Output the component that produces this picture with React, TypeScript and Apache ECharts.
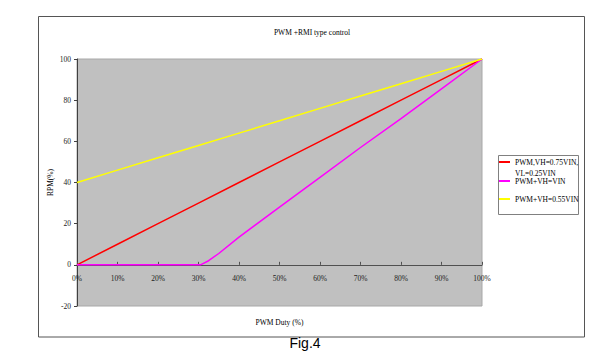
import React, { useEffect, useRef } from "react";
import * as echarts from "echarts";

const titleText = "PWM +RMI type control";
const xAxisName = "PWM Duty (%)";
const yAxisName = "RPM(%)";
const figCaption = "Fig.4";

const seriesNames = ["PWM,VH=0.75VIN, VL=0.25VIN", "PWM+VH=VIN", "PWM+VH=0.55VIN"];
const seriesColors = ["#FF0000", "#FF00FF", "#FFFF00"];

// duty (%) values for each series
const dutyRed = [0, 10, 20, 30, 40, 50, 60, 70, 80, 90, 100];
const rpmRed = [0, 10, 20, 30, 40, 50, 60, 70, 80, 90, 100];

const dutyMagenta = [0, 10, 20, 30, 30.5, 32.5, 35, 40, 50, 60, 70, 80, 90, 100];
const rpmMagenta = [0, 0, 0, 0, 0, 2, 5.5, 13.5, 28, 42.5, 57, 71, 85.5, 100];

const dutyYellow = [0, 10, 20, 30, 40, 50, 60, 70, 80, 90, 100];
const rpmYellow = [40, 46, 52, 58, 64, 70, 76, 82, 88, 94, 100];

const xTicks = { min: 0, max: 100, interval: 10 };
const yTicks = { min: -20, max: 100, interval: 20 };

const serif = "'Liberation Serif', 'Times New Roman', serif";

const GRID_TOP = 59;
const GRID_BOTTOM_PX = 306;

export default function App() {
  const ref = useRef<HTMLDivElement>(null);
  useEffect(() => {
    if (!ref.current) return;
    const chart = echarts.init(ref.current, null, { renderer: "svg" });
    const pairs = (xs: number[], ys: number[]) => xs.map((x, i) => [x, ys[i]]);
    const datasets = [
      pairs(dutyRed, rpmRed),
      pairs(dutyMagenta, rpmMagenta),
      pairs(dutyYellow, rpmYellow),
    ];
    // place the x axis on the zero line of the y axis
    const zeroFromBottom =
      ((0 - yTicks.min) / (yTicks.max - yTicks.min)) * (GRID_BOTTOM_PX - GRID_TOP);
    const legendBase = {
      orient: "vertical" as const,
      left: 499,
      padding: 0,
      icon: "rect",
      itemWidth: 11,
      itemHeight: 2,
      selectedMode: false,
      textStyle: { fontFamily: serif, fontSize: 7.5, color: "#000", lineHeight: 11 },
    };
    chart.setOption({
      animation: false,
      backgroundColor: "#ffffff",
      title: {
        text: titleText,
        left: 307,
        top: 23,
        textAlign: "center",
        textStyle: { fontFamily: serif, fontSize: 7.5, fontWeight: "normal", color: "#000" },
      },
      grid: {
        left: 77,
        right: 126,
        top: GRID_TOP,
        bottom: 354 - GRID_BOTTOM_PX,
        show: true,
        backgroundColor: "#C0C0C0",
        borderColor: "#a8a8a8",
        borderWidth: 1,
        outerBoundsMode: "none",
        containLabel: false,
      },
      legend: [
        {
          ...legendBase,
          top: 145.5,
          data: [seriesNames[0]],
          formatter: () => " \nPWM,VH=0.75VIN,\nVL=0.25VIN",
        },
        { ...legendBase, top: 175.5, data: [seriesNames[1]] },
        { ...legendBase, top: 193.5, data: [seriesNames[2]] },
      ],
      xAxis: {
        type: "value",
        min: xTicks.min,
        max: xTicks.max,
        interval: xTicks.interval,
        offset: -zeroFromBottom,
        name: xAxisName,
        nameLocation: "middle",
        nameGap: 54,
        nameMoveOverlap: false,
        nameTextStyle: { fontFamily: serif, fontSize: 7.5, color: "#000" },
        axisLine: { onZero: false, lineStyle: { color: "#505050", width: 1 } },
        axisTick: { show: true, inside: true, length: 3, lineStyle: { color: "#505050" } },
        axisLabel: {
          fontFamily: serif,
          fontSize: 7.5,
          color: "#222",
          margin: 10,
          formatter: (v: number) => `${v}%`,
        },
        splitLine: { show: false },
      },
      yAxis: {
        type: "value",
        min: yTicks.min,
        max: yTicks.max,
        interval: yTicks.interval,
        name: yAxisName,
        nameLocation: "middle",
        nameGap: 23,
        nameMoveOverlap: false,
        nameTextStyle: { fontFamily: serif, fontSize: 7.5, color: "#000" },
        axisLine: { show: true, onZero: false, lineStyle: { color: "#404040", width: 1 } },
        axisTick: { show: true, inside: false, length: 3, lineStyle: { color: "#404040" } },
        axisLabel: { fontFamily: serif, fontSize: 7.5, color: "#222", margin: 6 },
        splitLine: { show: false },
      },
      series: seriesNames.map((name, i) => ({
        name,
        type: "line",
        data: datasets[i],
        symbol: "none",
        color: seriesColors[i],
        lineStyle: { color: seriesColors[i], width: 1.5 },
        z: 2,
      })),
      graphic: [
        {
          type: "rect",
          shape: { x: 38.5, y: 16.5, width: 546, height: 320.5 },
          style: { fill: "none", stroke: "#555", lineWidth: 1 },
          silent: true,
          z: -1,
        },
        {
          type: "rect",
          shape: { x: 498.5, y: 155.5, width: 80, height: 59 },
          style: { fill: "none", stroke: "#808080", lineWidth: 1 },
          silent: true,
        },
        {
          type: "text",
          x: 305,
          y: 343,
          style: {
            text: figCaption,
            fontFamily: "'Liberation Sans', Arial, sans-serif",
            fontSize: 14,
            fill: "#000",
            align: "center",
            verticalAlign: "middle",
          },
        },
      ],
    });
    return () => chart.dispose();
  }, []);
  return (
    <div
      ref={ref}
      style={{ position: "fixed", left: 0, top: 0, width: 608, height: 354, background: "#fff" }}
    />
  );
}
